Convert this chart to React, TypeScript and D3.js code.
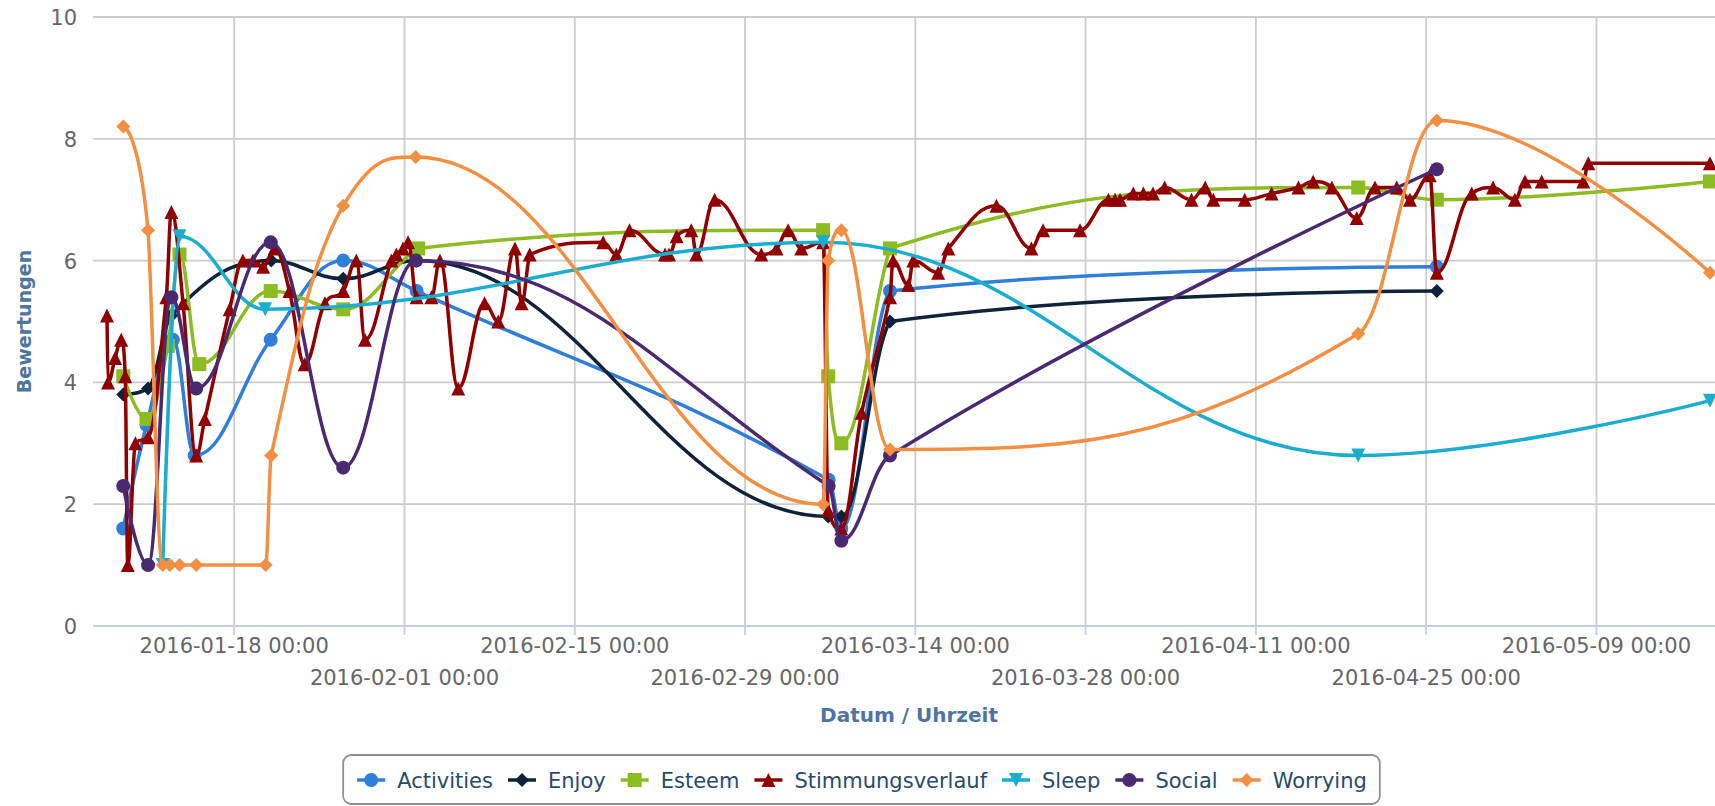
import React, { useRef, useEffect } from "react";
import * as d3 from "d3";

const width = 1715;
const height = 806;
const chartWidth = 1723; // the original chart is a little wider than the screenshot
const plot = { left: 93, top: 17, right: 1725, bottom: 626 };
const font = "'DejaVu Sans', Verdana, sans-serif";

// axis
const axisMin = "2016-01-06 09:20";
const axisMax = "2016-05-19 13:40";
const xTickLabels = [
  "2016-01-18 00:00", "2016-02-01 00:00", "2016-02-15 00:00", "2016-02-29 00:00", "2016-03-14 00:00",
  "2016-03-28 00:00", "2016-04-11 00:00", "2016-04-25 00:00", "2016-05-09 00:00",
];
const yTicks = [0, 2, 4, 6, 8, 10];

// series data: [date, rating]
const activities: [string, number][] = [
  ["2016-01-08 21:00", 1.6], ["2016-01-10 19:00", 3.3], ["2016-01-12 23:00", 4.7], ["2016-01-14 18:00", 2.8],
  ["2016-01-21 00:00", 4.7], ["2016-01-26 23:00", 6.0], ["2016-02-02 00:00", 5.5], ["2016-03-06 21:00", 2.4],
  ["2016-03-07 22:00", 1.6], ["2016-03-11 22:00", 5.5], ["2016-04-25 21:00", 5.9],
];
const enjoy: [string, number][] = [
  ["2016-01-08 21:00", 3.8], ["2016-01-10 22:00", 3.9], ["2016-01-12 20:00", 5.1], ["2016-01-21 01:00", 6.0],
  ["2016-01-26 23:00", 5.7], ["2016-02-02 00:00", 6.0], ["2016-03-06 20:00", 1.8], ["2016-03-07 22:00", 1.8],
  ["2016-03-11 22:00", 5.0], ["2016-04-25 21:00", 5.5],
];
const esteem: [string, number][] = [
  ["2016-01-08 21:00", 4.1], ["2016-01-10 19:00", 3.4], ["2016-01-12 13:00", 4.6], ["2016-01-13 12:00", 6.1],
  ["2016-01-15 03:00", 4.3], ["2016-01-21 00:00", 5.5], ["2016-01-26 23:00", 5.2], ["2016-02-02 03:00", 6.2],
  ["2016-03-06 10:00", 6.5], ["2016-03-06 20:00", 4.1], ["2016-03-07 22:00", 3.0], ["2016-03-11 22:00", 6.2],
  ["2016-04-19 10:00", 7.2], ["2016-04-25 21:00", 7.0], ["2016-05-18 08:00", 7.3],
];
const stimmung: [string, number][] = [
  ["2016-01-07 13:00", 5.1], ["2016-01-07 15:00", 4.0], ["2016-01-08 05:00", 4.4], ["2016-01-08 17:00", 4.7],
  ["2016-01-09 01:00", 4.1], ["2016-01-09 06:00", 1.0], ["2016-01-09 21:00", 3.0], ["2016-01-10 22:00", 3.1],
  ["2016-01-12 10:00", 5.4], ["2016-01-12 20:00", 6.8], ["2016-01-13 19:00", 5.3], ["2016-01-14 21:00", 2.8],
  ["2016-01-15 14:00", 3.4], ["2016-01-17 15:00", 5.2], ["2016-01-18 17:00", 6.0], ["2016-01-19 13:00", 6.0],
  ["2016-01-20 09:00", 5.9], ["2016-01-21 08:00", 6.2], ["2016-01-22 13:00", 5.5], ["2016-01-23 19:00", 4.3],
  ["2016-01-25 11:00", 5.3], ["2016-01-26 23:00", 5.5], ["2016-01-28 01:00", 6.0], ["2016-01-28 18:00", 4.7],
  ["2016-01-30 22:00", 6.0], ["2016-01-31 08:00", 6.1], ["2016-01-31 21:00", 6.2], ["2016-02-01 07:00", 6.3],
  ["2016-02-02 00:00", 5.4], ["2016-02-03 05:00", 5.4], ["2016-02-03 22:00", 6.0], ["2016-02-05 10:00", 3.9],
  ["2016-02-07 14:00", 5.3], ["2016-02-08 17:00", 5.0], ["2016-02-10 02:00", 6.2], ["2016-02-10 15:00", 5.3],
  ["2016-02-11 07:00", 6.1], ["2016-02-17 08:00", 6.3], ["2016-02-18 10:00", 6.1], ["2016-02-19 12:00", 6.5],
  ["2016-02-22 10:00", 6.1], ["2016-02-22 18:00", 6.1], ["2016-02-23 09:00", 6.4], ["2016-02-24 14:00", 6.5],
  ["2016-02-25 00:00", 6.1], ["2016-02-26 12:00", 7.0], ["2016-03-01 08:00", 6.1], ["2016-03-02 14:00", 6.2],
  ["2016-03-03 13:00", 6.5], ["2016-03-04 15:00", 6.2], ["2016-03-06 10:00", 6.3], ["2016-03-06 20:00", 1.9],
  ["2016-03-07 22:00", 1.6], ["2016-03-09 14:00", 3.5], ["2016-03-11 22:00", 5.4], ["2016-03-12 04:00", 6.0],
  ["2016-03-13 10:00", 5.6], ["2016-03-13 20:00", 6.0], ["2016-03-15 21:00", 5.8], ["2016-03-16 17:00", 6.2],
  ["2016-03-20 16:00", 6.9], ["2016-03-23 13:00", 6.2], ["2016-03-24 12:00", 6.5], ["2016-03-27 13:00", 6.5],
  ["2016-03-29 21:00", 7.0], ["2016-03-30 10:00", 7.0], ["2016-03-30 20:00", 7.0], ["2016-03-31 22:00", 7.1],
  ["2016-04-01 18:00", 7.1], ["2016-04-02 13:00", 7.1], ["2016-04-03 12:00", 7.2], ["2016-04-05 17:00", 7.0],
  ["2016-04-06 20:00", 7.2], ["2016-04-07 12:00", 7.0], ["2016-04-10 02:00", 7.0], ["2016-04-12 07:00", 7.1],
  ["2016-04-14 12:00", 7.2], ["2016-04-15 17:00", 7.3], ["2016-04-17 06:00", 7.2], ["2016-04-19 07:00", 6.7],
  ["2016-04-20 19:00", 7.2], ["2016-04-22 14:00", 7.2], ["2016-04-23 16:00", 7.0], ["2016-04-25 07:00", 7.4],
  ["2016-04-25 21:00", 5.8], ["2016-04-28 18:00", 7.1], ["2016-04-30 12:00", 7.2], ["2016-05-02 07:00", 7.0],
  ["2016-05-03 03:00", 7.3], ["2016-05-04 12:00", 7.3], ["2016-05-07 22:00", 7.3], ["2016-05-08 08:00", 7.6],
  ["2016-05-18 08:00", 7.6],
];
const sleep: [string, number][] = [
  ["2016-01-12 03:00", 1.0], ["2016-01-13 12:00", 6.4], ["2016-01-20 13:00", 5.2], ["2016-03-06 10:00", 6.3],
  ["2016-04-19 10:00", 2.8], ["2016-05-18 08:00", 3.7],
];
const social: [string, number][] = [
  ["2016-01-08 21:00", 2.3], ["2016-01-10 22:00", 1.0], ["2016-01-12 20:00", 5.4], ["2016-01-14 21:00", 3.9],
  ["2016-01-21 00:00", 6.3], ["2016-01-26 23:00", 2.6], ["2016-02-01 23:00", 6.0], ["2016-03-06 21:00", 2.3],
  ["2016-03-07 22:00", 1.4], ["2016-03-11 22:00", 2.8], ["2016-04-25 21:00", 7.5],
];
const worrying: [string, number][] = [
  ["2016-01-08 21:00", 8.2], ["2016-01-10 22:00", 6.5], ["2016-01-12 03:00", 1.0], ["2016-01-12 17:00", 1.0],
  ["2016-01-13 12:00", 1.0], ["2016-01-14 21:00", 1.0], ["2016-01-20 14:00", 1.0], ["2016-01-21 01:00", 2.8],
  ["2016-01-26 23:00", 6.9], ["2016-02-01 22:00", 7.7], ["2016-03-06 10:00", 2.0], ["2016-03-06 20:00", 6.0],
  ["2016-03-07 22:00", 6.5], ["2016-03-11 22:00", 2.9], ["2016-04-19 10:00", 4.8], ["2016-04-25 21:00", 8.3],
  ["2016-05-18 08:00", 5.8],
];

const seriesNames = ["Activities", "Enjoy", "Esteem", "Stimmungsverlauf", "Sleep", "Social", "Worrying"];
const seriesData = [activities, enjoy, esteem, stimmung, sleep, social, worrying];
const colors = ["#2f7ed8", "#0d233a", "#8bbc21", "#910000", "#1aadce", "#492970", "#f28f43"];
const symbols = ["circle", "diamond", "square", "triangle", "triangle-down", "circle", "diamond"];

const radius = 7;
const lineWidth = 3.5;

// Highcharts-style spline: control points at 1.5 smoothing, no false extremes
function splineCurve(context: any) {
  let xs: number[] = [];
  let ys: number[] = [];
  return {
    areaStart() {},
    areaEnd() {},
    lineStart() { xs = []; ys = []; },
    point(x: number, y: number) { xs.push(+x); ys.push(+y); },
    lineEnd() {
      const n = xs.length;
      if (!n) return;
      context.moveTo(xs[0], ys[0]);
      let prx = xs[0], pry = ys[0];
      for (let i = 1; i < n; i++) {
        const px = xs[i], py = ys[i];
        let lcx = px, lcy = py, rcx = px, rcy = py;
        if (i < n - 1) {
          const lx = xs[i - 1], ly = ys[i - 1], nx = xs[i + 1], ny = ys[i + 1];
          lcx = (1.5 * px + lx) / 2.5;
          lcy = (1.5 * py + ly) / 2.5;
          rcx = (1.5 * px + nx) / 2.5;
          rcy = (1.5 * py + ny) / 2.5;
          let corr = 0;
          if (rcx !== lcx) corr = ((rcy - lcy) * (rcx - px)) / (rcx - lcx) + py - rcy;
          lcy += corr;
          rcy += corr;
          if (lcy > ly && lcy > py) { lcy = Math.max(ly, py); rcy = 2 * py - lcy; }
          else if (lcy < ly && lcy < py) { lcy = Math.min(ly, py); rcy = 2 * py - lcy; }
          if (rcy > ny && rcy > py) { rcy = Math.max(ny, py); lcy = 2 * py - rcy; }
          else if (rcy < ny && rcy < py) { rcy = Math.min(ny, py); lcy = 2 * py - rcy; }
        }
        context.bezierCurveTo(prx, pry, lcx, lcy, px, py);
        prx = rcx; pry = rcy;
      }
    },
  };
}

const markerPath = (type: string, cx: number, cy: number, r: number) => {
  switch (type) {
    case "circle":
      return `M${cx - r},${cy}a${r},${r} 0 1,0 ${2 * r},0a${r},${r} 0 1,0 ${-2 * r},0Z`;
    case "diamond":
      return `M${cx},${cy - r}L${cx + r},${cy}L${cx},${cy + r}L${cx - r},${cy}Z`;
    case "square":
      return `M${cx - r},${cy - r}h${2 * r}v${2 * r}h${-2 * r}Z`;
    case "triangle":
      return `M${cx},${cy - r}L${cx + r},${cy + r}L${cx - r},${cy + r}Z`;
    default:
      return `M${cx - r},${cy - r}L${cx + r},${cy - r}L${cx},${cy + r}Z`;
  }
};

export default function App() {
  const ref = useRef<SVGSVGElement>(null);

  useEffect(() => {
    if (!ref.current) return;
    const svg = d3.select(ref.current);
    svg.selectAll("*").remove();

    const parse = d3.timeParse("%Y-%m-%d %H:%M");
    const x = d3.scaleTime()
      .domain([parse(axisMin)!, parse(axisMax)!])
      .range([plot.left, plot.right]);
    const y = d3.scaleLinear().domain([0, 10]).range([plot.bottom, plot.top]);

    svg.append("rect").attr("width", width).attr("height", height).attr("fill", "#fff");

    // horizontal grid
    svg.append("g")
      .selectAll("line")
      .data(yTicks)
      .join("line")
      .attr("x1", plot.left).attr("x2", plot.right)
      .attr("y1", d => y(d)).attr("y2", d => y(d))
      .attr("stroke", "#cccccc").attr("stroke-width", 1.8);

    const tickDates = xTickLabels.map(s => parse(s)!);

    // vertical grid
    svg.append("g")
      .selectAll("line")
      .data(tickDates)
      .join("line")
      .attr("x1", d => x(d)).attr("x2", d => x(d))
      .attr("y1", plot.top).attr("y2", plot.bottom)
      .attr("stroke", "#cccccc").attr("stroke-width", 1.8);

    // x axis line and ticks
    svg.append("line")
      .attr("x1", plot.left).attr("x2", plot.right)
      .attr("y1", plot.bottom).attr("y2", plot.bottom)
      .attr("stroke", "#c0d0e0").attr("stroke-width", 2.2);
    svg.append("g")
      .selectAll("line")
      .data(tickDates)
      .join("line")
      .attr("x1", d => x(d)).attr("x2", d => x(d))
      .attr("y1", plot.bottom).attr("y2", plot.bottom + 9)
      .attr("stroke", "#c0d0e0").attr("stroke-width", 1.8);

    svg.append("g")
      .selectAll("text")
      .data(xTickLabels)
      .join("text")
      .attr("x", d => x(parse(d)!))
      .attr("y", (d, i) => (i % 2 === 0 ? 652.5 : 685))
      .attr("text-anchor", "middle")
      .attr("font-family", font).attr("font-size", 21).attr("fill", "#666")
      .text(d => d);

    svg.append("g")
      .selectAll("text")
      .data(yTicks)
      .join("text")
      .attr("x", 77)
      .attr("y", d => y(d) + 8)
      .attr("text-anchor", "end")
      .attr("font-family", font).attr("font-size", 21).attr("fill", "#666")
      .text(d => d);

    // axis titles
    svg.append("text")
      .attr("x", (plot.left + plot.right) / 2).attr("y", 722)
      .attr("text-anchor", "middle")
      .attr("font-family", font).attr("font-size", 20).attr("font-weight", "bold")
      .attr("fill", "#4d759e")
      .text("Datum / Uhrzeit");
    svg.append("text")
      .attr("transform", `translate(31,${(plot.top + plot.bottom) / 2}) rotate(-90)`)
      .attr("text-anchor", "middle")
      .attr("font-family", font).attr("font-size", 19).attr("font-weight", "bold")
      .attr("fill", "#4d759e")
      .text("Bewertungen");

    // series
    const line = d3.line<[string, number]>()
      .x(d => x(parse(d[0])!))
      .y(d => y(d[1]))
      .curve(splineCurve as any);

    seriesData.forEach((data, si) => {
      const g = svg.append("g");
      g.append("path")
        .attr("d", line(data))
        .attr("fill", "none")
        .attr("stroke", colors[si])
        .attr("stroke-width", lineWidth)
        .attr("stroke-linejoin", "round")
        .attr("stroke-linecap", "round");
      g.selectAll("path.marker")
        .data(data)
        .join("path")
        .attr("class", "marker")
        .attr("d", d => markerPath(symbols[si], x(parse(d[0])!), y(d[1]), radius))
        .attr("fill", colors[si]);
    });

    // legend
    const legend = svg.append("g");
    const legendY = 780;
    const items = legend.selectAll("g")
      .data(seriesNames)
      .join("g");
    items.append("line")
      .attr("x1", 0).attr("x2", 28)
      .attr("y1", legendY).attr("y2", legendY)
      .attr("stroke", (d, i) => colors[i]).attr("stroke-width", lineWidth);
    items.append("path")
      .attr("d", (d, i) => markerPath(symbols[i], 14, legendY, radius))
      .attr("fill", (d, i) => colors[i]);
    items.append("text")
      .attr("x", 40).attr("y", legendY + 7.5)
      .attr("font-family", font).attr("font-size", 21).attr("fill", "#274b6d")
      .text(d => d);

    let cursor = 0;
    const offsets: number[] = [];
    items.each(function () {
      const t = d3.select(this).select("text").node() as SVGTextElement;
      offsets.push(cursor);
      cursor += 40 + t.getComputedTextLength() + 15;
    });
    const itemsWidth = cursor - 15;
    const boxW = 14 + itemsWidth + 13;
    const boxX = chartWidth / 2 - boxW / 2;
    items.attr("transform", (d, i) => `translate(${boxX + 14 + offsets[i]},0)`);
    legend.insert("rect", ":first-child")
      .attr("x", boxX).attr("y", 755)
      .attr("width", boxW).attr("height", 49)
      .attr("rx", 8).attr("ry", 8)
      .attr("fill", "#fff")
      .attr("stroke", "#909090").attr("stroke-width", 1.8);
  }, []);

  return (
    <svg
      ref={ref}
      width={width}
      height={height}
      style={{ position: "absolute", left: 0, top: 0, display: "block" }}
    />
  );
}
